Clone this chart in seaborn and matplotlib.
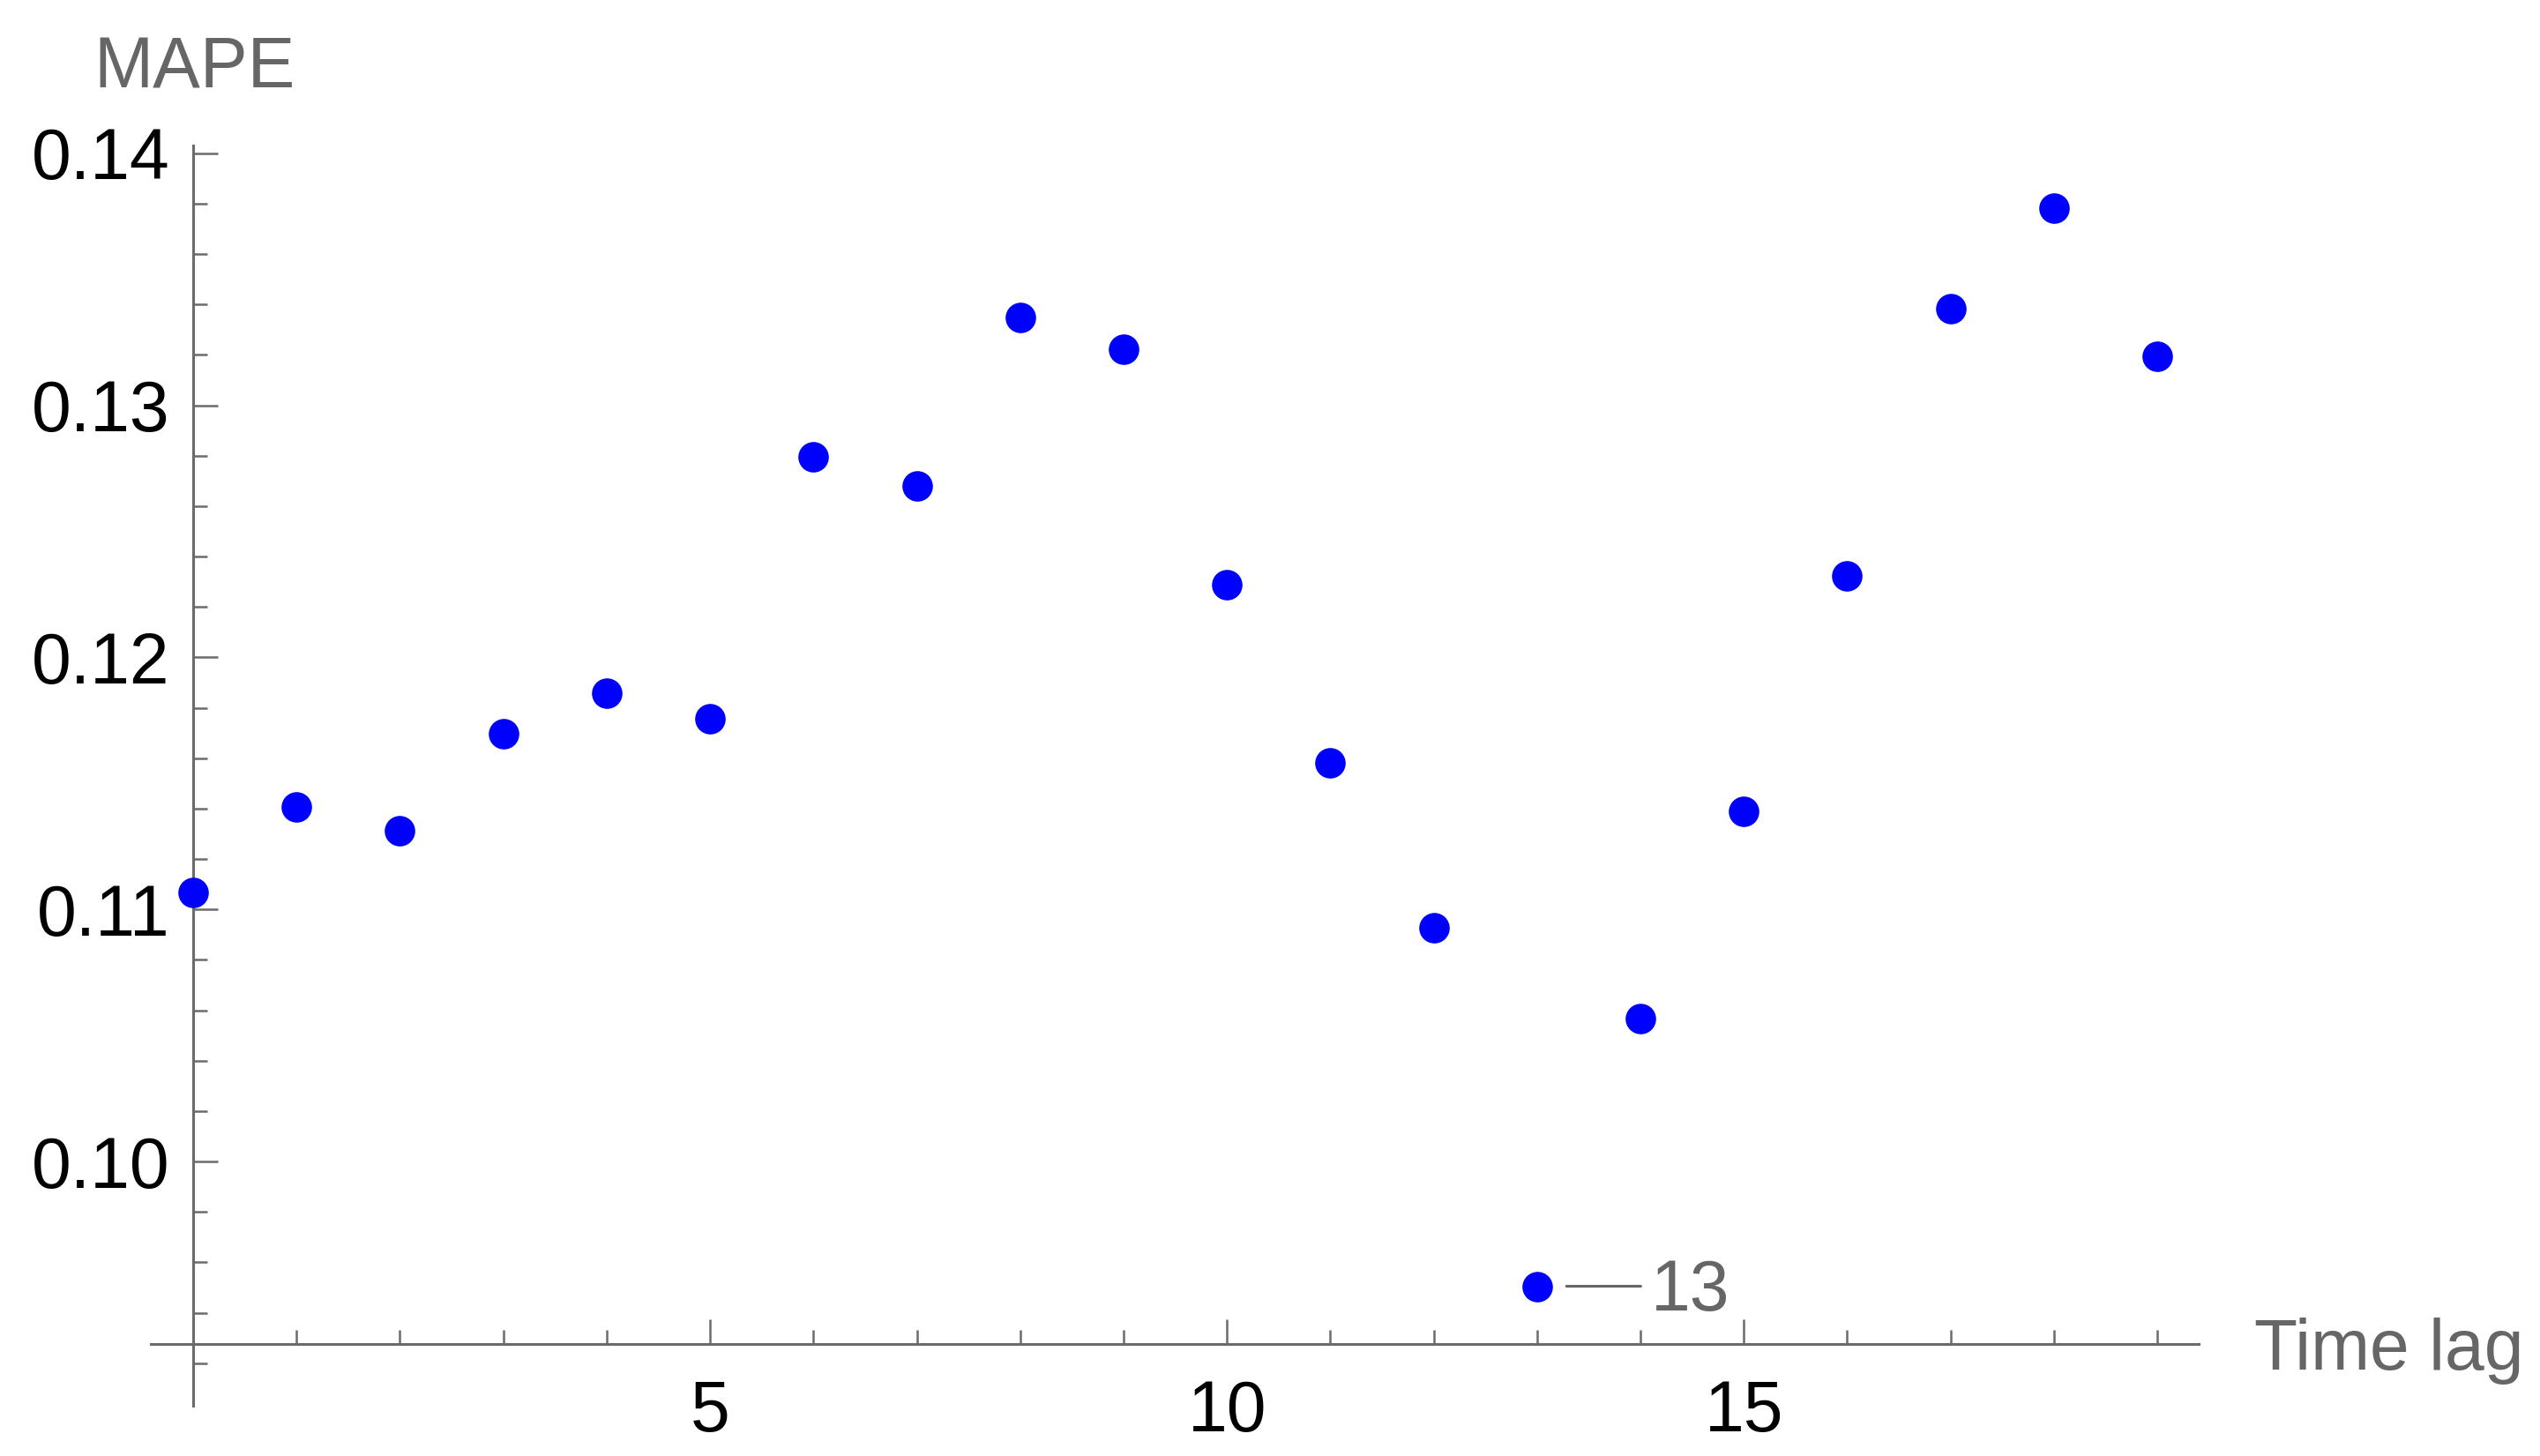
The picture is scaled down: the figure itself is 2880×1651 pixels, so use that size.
import numpy as np
import pandas as pd
import seaborn as sns
import matplotlib.pyplot as plt
from matplotlib.ticker import MultipleLocator, FixedLocator, FormatStrFormatter

# data
time_lag = list(range(20))
mape = [0.11068, 0.11408, 0.11312, 0.11698, 0.11859, 0.11756, 0.12797, 0.12682,
        0.13350, 0.13222, 0.12289, 0.11582, 0.10926, 0.09505, 0.10566, 0.11389,
        0.12322, 0.13383, 0.13781, 0.13196]
y_major = [0.10, 0.11, 0.12, 0.13, 0.14]
x_major = [5, 10, 15]
callout_lag = 13

df = pd.DataFrame({"Time lag": time_lag, "MAPE": mape})

sns.set_style("white")
plt.rcParams['font.family'] = ['Liberation Sans', 'DejaVu Sans']

axis_grey = '#6b6b6b'
text_grey = '#666666'
fs = 58
x_cross = 0.09276  # where the x axis crosses the y axis

fig = plt.figure(figsize=(28.8, 16.51), dpi=100)
ax = fig.add_axes([0.059375, 0.03453, 0.80625, 0.86554])

sns.scatterplot(data=df, x="Time lag", y="MAPE", ax=ax, color='#0000ff',
                s=620, linewidth=0, clip_on=False, zorder=3)

ax.set_xlim(-0.41, 19.4)
ax.set_ylim(0.09031, 0.14031)

# Mathematica-style axes through the origin
for side in ['top', 'right']:
    ax.spines[side].set_visible(False)
ax.spines['left'].set_position(('data', 0))
ax.spines['bottom'].set_position(('data', x_cross))
for side in ['left', 'bottom']:
    ax.spines[side].set_color(axis_grey)
    ax.spines[side].set_linewidth(2.2)

ax.yaxis.set_major_locator(FixedLocator(y_major))
ax.yaxis.set_minor_locator(MultipleLocator(0.002))
ax.yaxis.set_major_formatter(FormatStrFormatter('%.2f'))
ax.xaxis.set_major_locator(FixedLocator(x_major))
ax.xaxis.set_minor_locator(MultipleLocator(1))

ax.tick_params(which='both', bottom=True, left=True, direction='in',
               color=axis_grey, width=1.8, labelsize=fs, labelcolor='black')
ax.tick_params(which='major', length=20)
ax.tick_params(which='minor', length=11.5)
ax.tick_params(axis='y', which='major', pad=19)
ax.tick_params(axis='x', which='major', pad=29)

ax.set_xlabel('')
ax.set_ylabel('')
ax.text(-0.964, 0.14259, 'MAPE', ha='left', va='baseline', color=text_grey,
        fontsize=fs, clip_on=False)
ax.text(19.94, 0.09174, 'Time lag', ha='left', va='baseline', color=text_grey,
        fontsize=fs, clip_on=False)

# callout for the lowest point
ax.annotate(str(callout_lag), xy=(callout_lag, mape[callout_lag]),
            xytext=(93, -20), textcoords='offset points',
            ha='left', va='baseline', color=text_grey, fontsize=fs,
            arrowprops=dict(arrowstyle='-', color=text_grey, lw=2.2,
                            shrinkA=6, shrinkB=24, relpos=(0, 0.59)))

fig.savefig('out.png', dpi=100, facecolor='white')
